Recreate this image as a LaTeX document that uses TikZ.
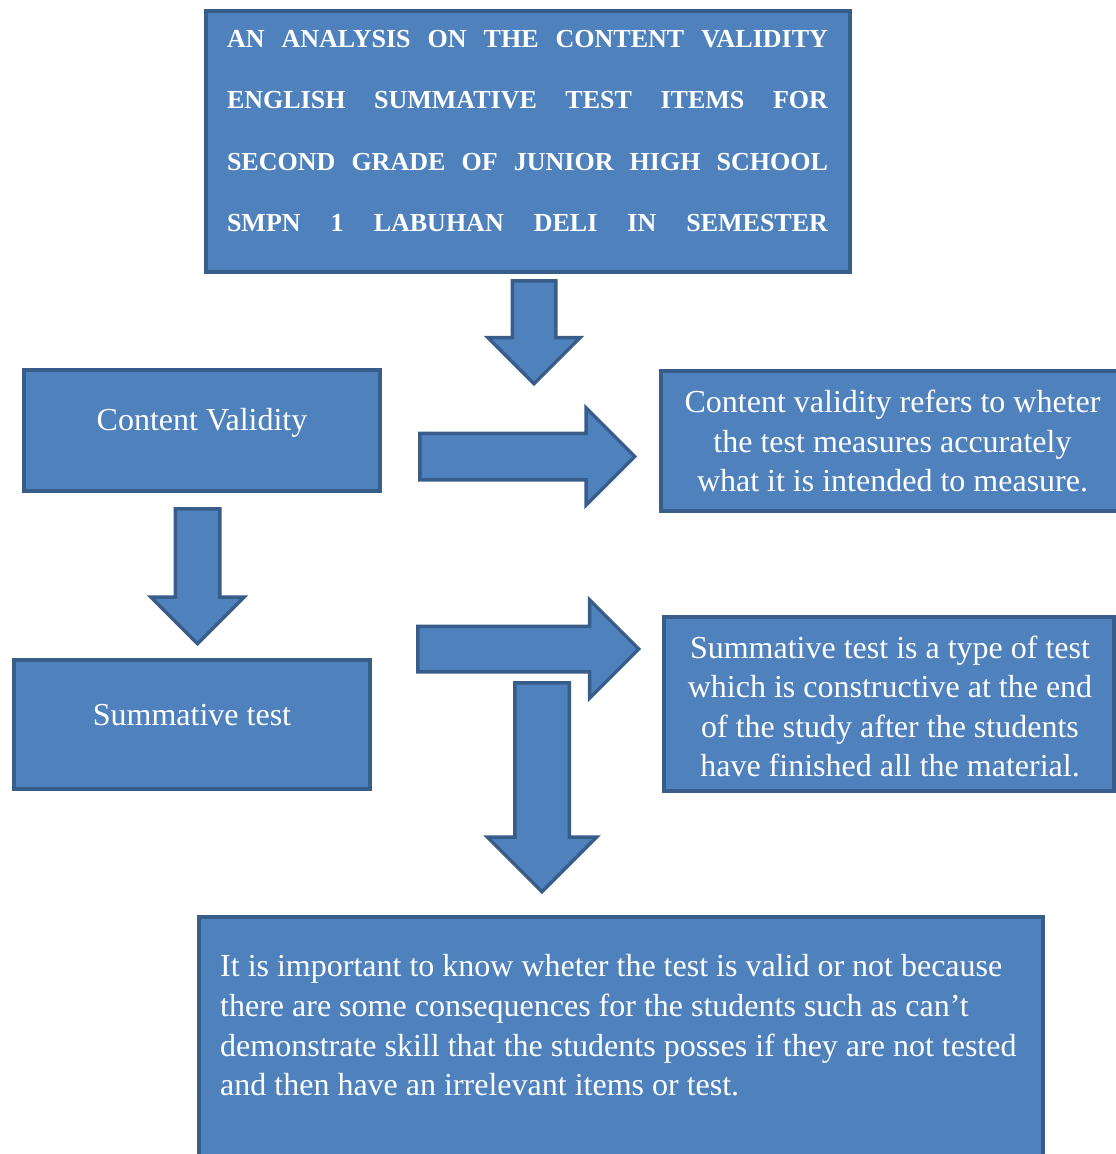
\documentclass[tikz,border=0pt]{standalone}
\usepackage{fontspec}
\setmainfont{Liberation Serif}
\usepackage{xcolor}
\usetikzlibrary{shapes.arrows}

\definecolor{boxfill}{HTML}{4F81BD}
\definecolor{boxline}{HTML}{385D8A}

\begin{document}
\begin{tikzpicture}[x=1pt, y=-1pt,
  box/.style={rectangle, draw=boxline, fill=boxfill, line width=3.5pt, inner sep=0pt},
  boxtext/.style={text=white, font=\fontsize{32}{39.5}\selectfont, align=center, inner sep=0pt},
  blockarrow/.style={single arrow, draw=boxline, fill=boxfill, line width=3.5pt,
    inner xsep=0pt, single arrow tip angle=90, anchor=tail}]
\useasboundingbox (0,0) rectangle (1116,1154);
% Boxes
\node[box, minimum width=644pt, minimum height=261pt] (title) at (528,141.5) {};
\node[box, minimum width=356pt, minimum height=121pt] (valid) at (202,430.5) {};
\node[box, minimum width=356pt, minimum height=129pt] (summ) at (192,724.5) {};
\node[box, minimum width=463pt, minimum height=140pt] (validdef) at (892.5,441) {};
\node[box, minimum width=450pt, minimum height=174pt] (summdef) at (889,704) {};
\node[box, minimum width=844pt, minimum height=273pt] (reason) at (621,1053.5) {};
% Texts
\node[boxtext, font=\bfseries\fontsize{26}{61.3}\selectfont] (titletext) at (527.5,131)
  {\makebox[601pt][s]{AN ANALYSIS ON THE CONTENT VALIDITY}\\
   \makebox[601pt][s]{ENGLISH SUMMATIVE TEST ITEMS FOR}\\
   \makebox[601pt][s]{SECOND GRADE OF JUNIOR HIGH SCHOOL}\\
   \makebox[601pt][s]{SMPN 1 LABUHAN DELI IN SEMESTER}};
\node[boxtext] (validtext) at (202,423) {Content Validity};
\node[boxtext] (summtext) at (192,715) {Summative test};
\node[boxtext] (validdeftext) at (892.5,441)
  {Content validity refers to wheter\\ the test measures accurately\\ what it is intended to measure.};
\node[boxtext, font=\fontsize{32}{39.3}\selectfont] (summdeftext) at (890,706.5)
  {Summative test is a type of test\\ which is constructive at the end\\ of the study after the students\\ have finished all the material.};
\node[boxtext, align=left, anchor=west, font=\fontsize{32}{39.7}\selectfont] (reasontext) at (220,1025.5)
  {It is important to know wheter the test is valid or not because\\
   there are some consequences for the students such as can’t\\
   demonstrate skill that the students posses if they are not tested\\
   and then have an irrelevant items or test.};
% Arrows
\node[blockarrow, rotate=-90, inner ysep=20pt, single arrow head extend=24.5pt, minimum height=103pt] (down1) at (534,279) {};
\node[blockarrow, inner ysep=21.5pt, single arrow head extend=25.5pt, minimum height=215pt] (right1) at (418,456.5) {};
\node[blockarrow, rotate=-90, inner ysep=20.5pt, single arrow head extend=24.5pt, minimum height=135pt] (down2) at (197.5,507) {};
\node[blockarrow, inner ysep=21pt, single arrow head extend=26.5pt, minimum height=221pt] (right2) at (416,649) {};
\node[blockarrow, rotate=-90, inner ysep=25.5pt, single arrow head extend=27.5pt, minimum height=209pt] (down3) at (542,681) {};
\end{tikzpicture}
\end{document}
